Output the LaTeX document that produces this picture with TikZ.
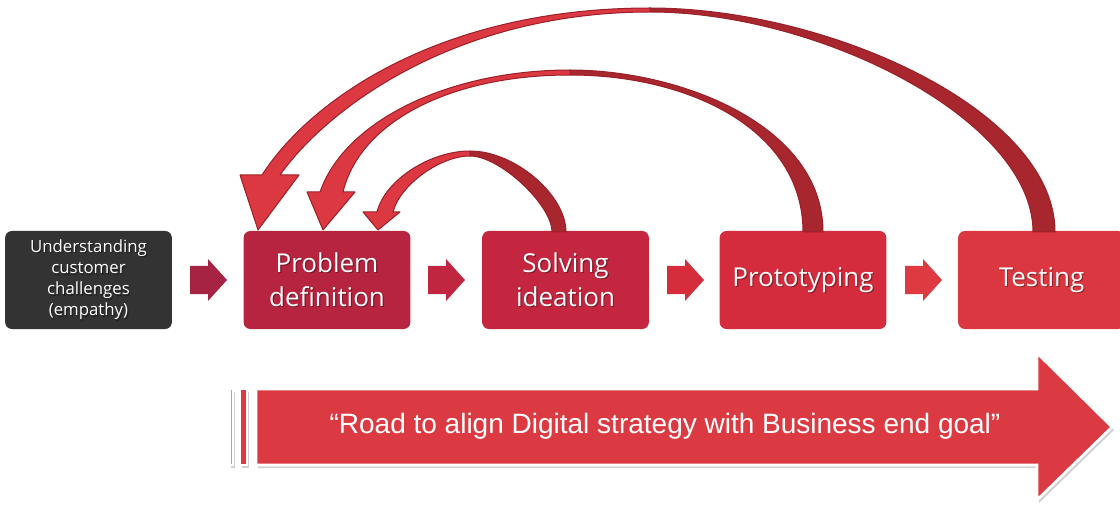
\documentclass[tikz,border=0pt]{standalone}
\usepackage{fontspec}
\setmainfont{Open Sans}
\newfontfamily\roadfont{Liberation Sans}
\definecolor{empathy}{HTML}{333333}
\definecolor{cprob}{HTML}{B72440}
\definecolor{csolve}{HTML}{C4253F}
\definecolor{cproto}{HTML}{D42B3D}
\definecolor{ctest}{HTML}{DB3740}
\definecolor{aone}{HTML}{A72344}
\definecolor{atwo}{HTML}{C0263F}
\definecolor{athree}{HTML}{D62D3D}
\definecolor{afour}{HTML}{DD3A42}
\definecolor{road}{HTML}{DC3A42}
\definecolor{loopfront}{HTML}{DC3841}
\definecolor{loopback}{HTML}{A8272F}
\definecolor{loopedge}{HTML}{9A2029}
\begin{document}
\begin{tikzpicture}[x=0.75pt,y=-0.75pt,
  stepbox/.style={rounded corners=5pt, minimum width=125pt, minimum height=73.5pt,
    inner sep=0pt, draw=none},
  steptext/.style={align=center, text=white, inner sep=0pt,
    font=\fontsize{19.5}{25.5}\selectfont},
  smalltext/.style={align=center, text=white, inner sep=0pt,
    font=\fontsize{12.6}{15.8}\selectfont},
  loop/.style={draw=loopedge, line width=0.75pt, line join=round},
  front/.style={loop, fill=loopfront},
  back/.style={loop, fill=loopback},
  roadbar/.style={draw=white, line width=2pt, fill=road},
]
\useasboundingbox (0,0) rectangle (1120,513);

% process steps
\node[stepbox, fill=empathy] (emp)   at (88.5,280)  {};
\node[stepbox, fill=cprob]   (prob)  at (327,280)   {};
\node[stepbox, fill=csolve]  (solve) at (565.5,280) {};
\node[stepbox, fill=cproto]  (proto) at (803,280)   {};
\node[stepbox, fill=ctest]   (test)  at (1041.5,280){};

\newcommand\steplabel[3]{%
  \node[#2, text=black, opacity=0.35] at ([shift={(0.9pt,-0.9pt)}]#1.center) {#3};
  \node[#2] at (#1.center) {#3};}
\steplabel{emp}{smalltext}{Understanding\\customer\\challenges\\(empathy)}
\steplabel{prob}{steptext}{Problem\\definition}
\steplabel{solve}{steptext}{Solving\\ideation}
\steplabel{proto}{steptext}{Prototyping}
\steplabel{test}{steptext}{Testing}

% block arrows between the steps
\newcommand\blockarrow[2]{%
  \fill[#2] (#1,266) -- (#1+18,266) -- (#1+18,259) -- (#1+37,280)
    -- (#1+18,301) -- (#1+18,294) -- (#1,294) -- cycle;}
\blockarrow{190}{aone}
\blockarrow{428}{atwo}
\blockarrow{667}{athree}
\blockarrow{905}{afour}

% feedback loops back to the problem definition
% Testing -> Problem definition
\draw[back] (650,8) .. controls (830,8) and (1055,111) .. (1055,232)
  -- (1033,232) .. controls (1033,120) and (820,12) .. (650,12) -- cycle;
\draw[front] (650,8) .. controls (440,8) and (310,100) .. (262,175)
  -- (240,175) -- (258,230) -- (299,175) -- (280,175)
  .. controls (330,105) and (460,12) .. (650,12) -- cycle;
% Prototyping -> Problem definition
\draw[back] (570,70) .. controls (680,70) and (823,125) .. (823,232)
  -- (803,232) .. controls (803,130) and (690,75) .. (570,75) -- cycle;
\draw[front] (570,70) .. controls (450,70) and (345,120) .. (320,192)
  -- (307,192) -- (323,230) -- (355,192) -- (343,192)
  .. controls (360,122) and (450,75) .. (570,75) -- cycle;
% Solving ideation -> Problem definition
\draw[back] (470,151) .. controls (515,151) and (566,195) .. (566,232)
  -- (552,232) .. controls (552,205) and (500,156) .. (470,156) -- cycle;
\draw[front] (470,151) .. controls (430,151) and (385,180) .. (377,212)
  -- (363,212) -- (378,230) -- (400,212) -- (393,212)
  .. controls (400,185) and (440,156) .. (470,156) -- cycle;

% road arrow with its shadow
\fill[black, opacity=0.18] (258,392) -- (1039,392) -- (1039,356) -- (1114,430)
  -- (1039,503) -- (1039,468) -- (258,468) -- cycle;
\fill[black, opacity=0.18] (231,392) rectangle (235,468);
\fill[black, opacity=0.18] (242,392) rectangle (249,468);
\draw[roadbar] (256,389) -- (1037,389) -- (1037,353) -- (1112,427)
  -- (1037,500) -- (1037,465) -- (256,465) -- cycle;
\draw[roadbar] (240,389) rectangle (247,465);
\draw[draw=white, line width=1.5pt, fill=road!60] (229.5,389) rectangle (232.5,465);
\node[font=\roadfont\fontsize{21}{25}\selectfont, text=white, inner sep=0pt]
  (roadtext) at (665,426) {“Road to align Digital strategy with Business end goal”};
\end{tikzpicture}
\end{document}
